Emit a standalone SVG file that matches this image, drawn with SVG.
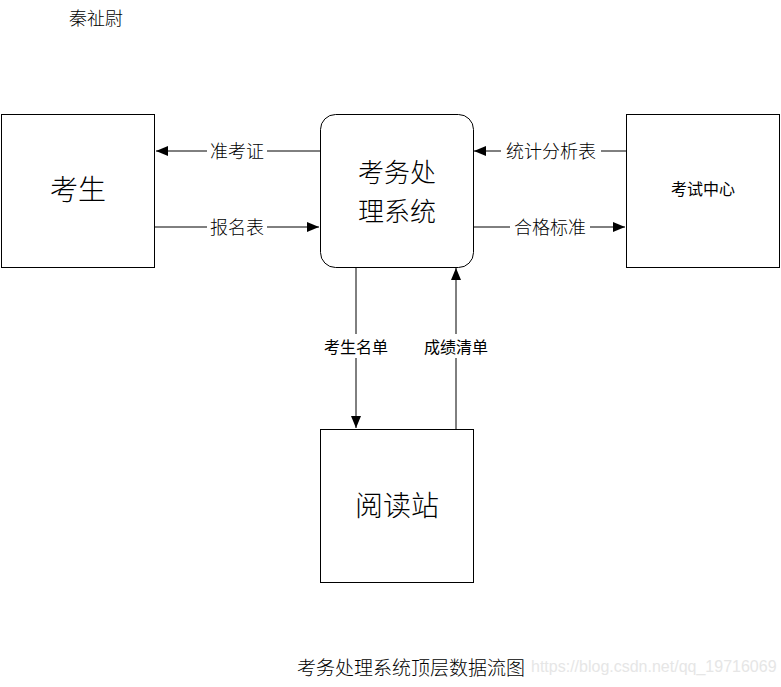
<svg xmlns="http://www.w3.org/2000/svg" width="781" height="687" viewBox="0 0 781 687">
<style>
.box{fill:#fff;stroke:#000;stroke-width:1}
.ln{stroke:#000;stroke-width:1;fill:none}
.t{font-family:"Noto Sans CJK SC","Noto Sans",sans-serif;fill:#000;text-anchor:middle;dominant-baseline:central}
.big{font-size:28px;font-weight:300}
.lab{font-size:18px;font-weight:300}
.sm{font-size:16px}
.bg{fill:#fff}
</style>
<defs>
<marker id="ah" markerWidth="12" markerHeight="10" refX="12" refY="5" orient="auto" markerUnits="userSpaceOnUse">
<path d="M0,0 L12,5 L0,10 Z" fill="#000"/>
</marker>
</defs>
<text class="t" x="96" y="17" style="font-size:18px;font-weight:300">秦祉尉</text>
<g id="connectors">
<line class="ln" x1="320" y1="151" x2="156" y2="151" marker-end="url(#ah)"/>
<line class="ln" x1="155" y1="227" x2="319" y2="227" marker-end="url(#ah)"/>
<line class="ln" x1="626" y1="151" x2="474" y2="151" marker-end="url(#ah)"/>
<line class="ln" x1="473" y1="227" x2="625" y2="227" marker-end="url(#ah)"/>
<line class="ln" x1="356" y1="267" x2="356" y2="428" marker-end="url(#ah)"/>
<line class="ln" x1="456" y1="429" x2="456" y2="268" marker-end="url(#ah)"/>
<rect class="bg" x="207" y="139" width="60" height="24"/>
<text class="t lab" x="237" y="150">准考证</text>
<rect class="bg" x="501" y="139" width="100" height="24"/>
<text class="t lab" x="551" y="150">统计分析表</text>
<rect class="bg" x="207" y="215" width="60" height="24"/>
<text class="t lab" x="237" y="226">报名表</text>
<rect class="bg" x="510" y="215" width="80" height="24"/>
<text class="t lab" x="550" y="226">合格标准</text>
<rect class="bg" x="320" y="334" width="72" height="24"/>
<text class="t sm" x="356" y="346">考生名单</text>
<rect class="bg" x="420" y="334" width="72" height="24"/>
<text class="t sm" x="456" y="346">成绩清单</text>
</g>
<g id="node-kaosheng">
<rect class="box" x="1.5" y="114.5" width="153" height="153"/>
<text class="t big" x="78" y="188">考生</text>
</g>
<g id="node-system">
<rect class="box" x="320.5" y="114.5" width="153" height="153" rx="15" ry="15"/>
<text class="t big" style="font-size:26px"><tspan x="397" y="170">考务处</tspan><tspan x="397" y="209">理系统</tspan></text>
</g>
<g id="node-center">
<rect class="box" x="626.5" y="114.5" width="153" height="153"/>
<text class="t" x="703" y="188" style="font-size:16px">考试中心</text>
</g>
<g id="node-yuedu">
<rect class="box" x="320.5" y="429.5" width="153" height="153"/>
<text class="t big" x="397" y="504">阅读站</text>
</g>
<text class="t" x="411" y="666" style="font-size:19px;font-weight:300">考务处理系统顶层数据流图</text>
<text x="531" y="666" style="font-family:'Liberation Sans',sans-serif;font-size:16px;fill:#e6e6e6;dominant-baseline:central">https://blog.csdn.net/qq_19716069</text>
</svg>
